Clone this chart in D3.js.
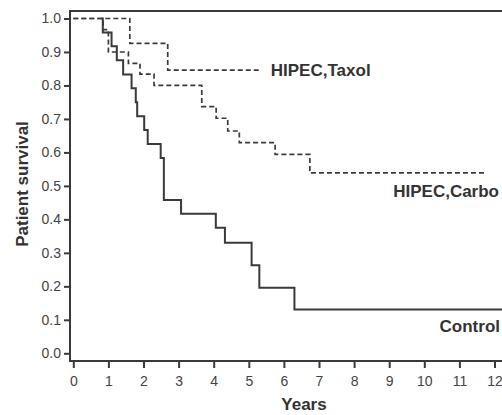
<!DOCTYPE html>
<html>
<head>
<meta charset="utf-8">
<script src="https://cdn.jsdelivr.net/npm/d3@7"></script>
<style>
  body { margin: 0; background: #fff; }
  text { font-family: "Liberation Sans", Arial, sans-serif; }
</style>
</head>
<body>
<div id="chart-area"></div>
<script>
// survival curves (event time in years, survival after it)
var controlTimes = [0.84, 1.09, 1.24, 1.42, 1.66, 1.78, 1.82, 2.02, 2.12, 2.49, 2.58, 3.07, 4.06, 4.32, 5.08, 5.30, 6.30];
var controlSurv  = [0.958, 0.917, 0.875, 0.833, 0.792, 0.750, 0.708, 0.667, 0.625, 0.583, 0.458, 0.417, 0.375, 0.330, 0.263, 0.196, 0.131];
var controlStart = 0.8, controlEnd = 12.3;

var carboTimes = [0.85, 1.00, 1.57, 1.90, 2.30, 3.66, 4.07, 4.40, 4.73, 5.75, 6.74];
var carboSurv  = [0.967, 0.900, 0.866, 0.834, 0.800, 0.737, 0.702, 0.664, 0.629, 0.594, 0.539];
var carboStart = 0, carboEnd = 11.78;

var taxolTimes = [1.61, 2.69];
var taxolSurv  = [0.926, 0.846];
var taxolStart = 0, taxolEnd = 5.37;

var xTicks = [0, 1, 2, 3, 4, 5, 6, 7, 8, 9, 10, 11, 12];
var yTicks = [0, 0.1, 0.2, 0.3, 0.4, 0.5, 0.6, 0.7, 0.8, 0.9, 1.0];

var width = 502, height = 415;
var axisX = 70, axisY = 361, frameTop = 11;

var svg = d3.select("#chart-area")
    .append("svg")
    .attr("width", width)
    .attr("height", height);

var x = d3.scaleLinear().domain([0, 12]).range([73.3, 494.5]);
var y = d3.scaleLinear().domain([0, 1]).range([353.3, 18.5]);

var ink = "#3a3a3a";

// frame: left + top lines, bottom axis line
svg.append("line")
    .attr("x1", axisX).attr("x2", axisX)
    .attr("y1", frameTop).attr("y2", axisY)
    .attr("stroke", ink).attr("stroke-width", 2);
svg.append("line")
    .attr("x1", axisX - 1).attr("x2", width)
    .attr("y1", frameTop).attr("y2", frameTop)
    .attr("stroke", ink).attr("stroke-width", 2);
svg.append("line")
    .attr("x1", axisX - 1).attr("x2", width)
    .attr("y1", axisY).attr("y2", axisY)
    .attr("stroke", ink).attr("stroke-width", 2);

// y axis
var yAxis = svg.append("g")
    .attr("transform", "translate(" + axisX + ",0)")
    .call(d3.axisLeft(y).tickValues(yTicks).tickSize(6).tickPadding(3).tickFormat(d3.format(".1f")));
yAxis.select(".domain").remove();
yAxis.selectAll(".tick line").attr("stroke", ink).attr("stroke-width", 2);
yAxis.selectAll(".tick text")
    .attr("fill", "#444")
    .style("font-size", "14px")
    .style("font-family", "'Liberation Sans', Arial, sans-serif");

// x axis
var xAxis = svg.append("g")
    .attr("transform", "translate(0," + axisY + ")")
    .call(d3.axisBottom(x).tickValues(xTicks).tickSize(7).tickPadding(8));
xAxis.select(".domain").remove();
xAxis.selectAll(".tick line").attr("stroke", ink).attr("stroke-width", 2);
xAxis.selectAll(".tick text")
    .attr("fill", "#444")
    .style("font-size", "14px")
    .style("font-family", "'Liberation Sans', Arial, sans-serif");

// axis titles
svg.append("text")
    .attr("x", 304).attr("y", 410)
    .attr("text-anchor", "middle")
    .attr("font-size", "17px").attr("font-weight", "bold")
    .attr("fill", "#333")
    .text("Years");

svg.append("text")
    .attr("transform", "translate(28,184) rotate(-90)")
    .attr("text-anchor", "middle")
    .attr("font-size", "17px").attr("font-weight", "bold")
    .attr("fill", "#333")
    .text("Patient survival");

// step curves
function stepPoints(start, times, surv, end) {
    var pts = [[start, 1]];
    times.forEach(function(t, i) { pts.push([t, surv[i]]); });
    pts.push([end, surv[surv.length - 1]]);
    return pts;
}

var line = d3.line()
    .x(function(d) { return x(d[0]); })
    .y(function(d) { return y(d[1]); })
    .curve(d3.curveStepAfter);

svg.append("path")
    .datum(stepPoints(carboStart, carboTimes, carboSurv, carboEnd))
    .attr("d", line)
    .attr("fill", "none")
    .attr("stroke", ink)
    .attr("stroke-width", 1.7)
    .attr("stroke-dasharray", "5,3");

svg.append("path")
    .datum(stepPoints(taxolStart, taxolTimes, taxolSurv, taxolEnd))
    .attr("d", line)
    .attr("fill", "none")
    .attr("stroke", ink)
    .attr("stroke-width", 1.7)
    .attr("stroke-dasharray", "5,3");

svg.append("path")
    .datum(stepPoints(controlStart, controlTimes, controlSurv, controlEnd))
    .attr("d", line)
    .attr("fill", "none")
    .attr("stroke", ink)
    .attr("stroke-width", 2);

// curve labels
svg.append("text")
    .attr("x", x(taxolEnd) + 9).attr("y", y(taxolSurv[taxolSurv.length - 1]) + 6)
    .attr("font-size", "17px").attr("font-weight", "bold").attr("fill", "#333")
    .text("HIPEC,Taxol");

svg.append("text")
    .attr("x", 499).attr("y", 197)
    .attr("text-anchor", "end")
    .attr("font-size", "17px").attr("font-weight", "bold").attr("fill", "#333")
    .text("HIPEC,Carbo");

svg.append("text")
    .attr("x", 500).attr("y", 332)
    .attr("text-anchor", "end")
    .attr("font-size", "17px").attr("font-weight", "bold").attr("fill", "#333")
    .text("Control");
</script>
</body>
</html>
